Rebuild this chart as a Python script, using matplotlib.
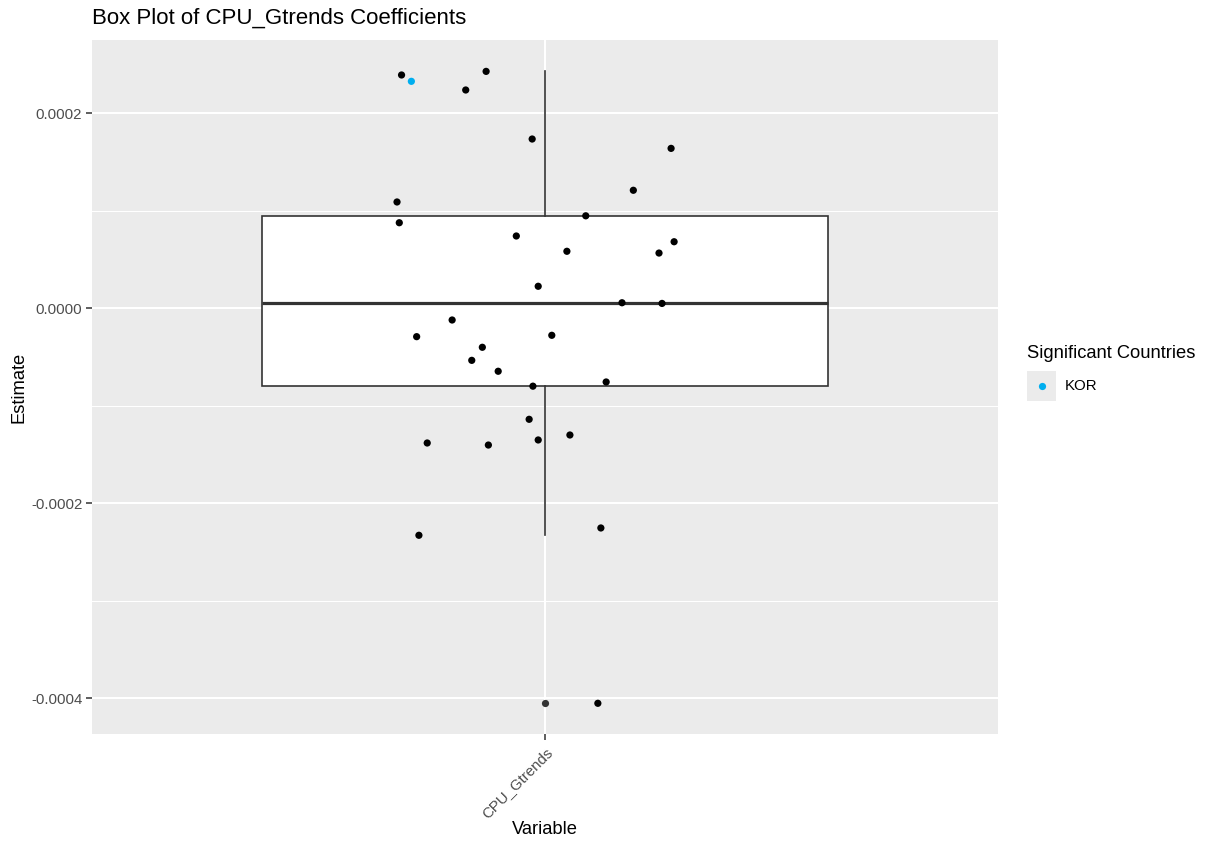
import matplotlib
matplotlib.use("Agg")
import matplotlib.pyplot as plt
import numpy as np
from matplotlib.patches import Rectangle
from matplotlib.lines import Line2D

plt.rcParams['font.family'] = ['Liberation Sans', 'DejaVu Sans']

# data
variable = "CPU_Gtrends"
estimates = [0.0002393, 0.0002328, 0.0002430, 0.0002239, 0.0001736, 0.0001640,
             0.0001210, 0.0001090, 0.0000877, 0.0000948, 0.0000741, 0.0000682,
             0.0000584, 0.0000566, 0.0000225, 0.0000056, 0.0000049, -0.0000121,
             -0.0000292, -0.0000278, -0.0000401, -0.0000535, -0.0000647, -0.0000757,
             -0.0000800, -0.0001140, -0.0001383, -0.0001404, -0.0001352, -0.0001301,
             -0.0002255, -0.0002330, -0.0004054]
jitter = [-0.190, -0.177, -0.078, -0.105, -0.017, 0.167,
          0.117, -0.196, -0.193, 0.054, -0.038, 0.171,
          0.029, 0.151, -0.009, 0.102, 0.155, -0.123,
          -0.170, 0.009, -0.083, -0.097, -0.062, 0.081,
          -0.016, -0.021, -0.156, -0.075, -0.009, 0.033,
          0.074, -0.167, 0.070]
significant = [None] * len(estimates)
significant[1] = "KOR"
sig_colors = {"KOR": "#00AEEF"}

y_ticks = [0.0002, 0.0, -0.0002, -0.0004]
y_minor = [0.0001, -0.0001, -0.0003]

W, H = 1206, 841
fig = plt.figure(figsize=(W / 100, H / 100), dpi=100)
left, right, top, bottom = 92, 998, 40, 734
ax = fig.add_axes([left / W, 1 - bottom / H, (right - left) / W, (bottom - top) / H])
ax.set_facecolor("#EBEBEB")
for s in ax.spines.values():
    s.set_visible(False)

# grid
for v in y_minor:
    ax.axhline(v, color="white", lw=0.75, zorder=0)
for v in y_ticks:
    ax.axhline(v, color="white", lw=1.5, zorder=0)
ax.axvline(1, color="white", lw=1.5, zorder=0)

# box plot
grey20 = "#333333"
ax.boxplot([estimates], positions=[1], widths=0.75, whis=1.5, patch_artist=True,
           showcaps=False,
           boxprops=dict(facecolor="white", edgecolor=grey20, linewidth=1.2),
           whiskerprops=dict(color=grey20, linewidth=1.2),
           medianprops=dict(color=grey20, linewidth=2.3),
           flierprops=dict(marker="o", markerfacecolor=grey20, markeredgecolor=grey20,
                           markersize=5.2, markeredgewidth=0),
           zorder=2)

# jittered points
xs = 1 + np.array(jitter)
cols = [sig_colors.get(c, "black") if c else "black" for c in significant]
ax.scatter(xs, estimates, c=cols, s=27, linewidths=0, zorder=3)

ax.set_xlim(0.4, 1.6)
ax.set_ylim(-0.0004369, 0.0002752)
ax.set_yticks(y_ticks)
ax.set_yticklabels(["%.4f" % v for v in y_ticks])
ax.set_xticks([1])
ax.set_xticklabels([variable], rotation=45, ha="right", va="top", rotation_mode="anchor")
ax.tick_params(axis="both", colors=grey20, length=4, width=1.1, labelsize=10.8,
               labelcolor="#4D4D4D")
ax.tick_params(axis="y", pad=3)
ax.tick_params(axis="x", pad=4)

ax.set_xlabel("Variable", fontsize=13.2)
ax.xaxis.set_label_coords(0.5, -(830 - bottom) / (bottom - top))
ax.xaxis.label.set_va("center")
ax.set_ylabel("Estimate", fontsize=13.2)
ax.yaxis.set_label_coords(-(left - 19) / (right - left), 0.5)
ax.yaxis.label.set_va("center")

fig.text(left / W, 1 - 18 / H, "Box Plot of CPU_Gtrends Coefficients",
         fontsize=16, ha="left", va="center")

# legend
fig.text(1027 / W, 1 - 354 / H, "Significant Countries", fontsize=13.2,
         ha="left", va="center")
fig.patches.append(Rectangle((1027 / W, 1 - 401 / H), 29 / W, 30 / H,
                             transform=fig.transFigure, facecolor="#EBEBEB",
                             edgecolor="none"))
fig.lines.append(Line2D([1041.5 / W], [1 - 386 / H], transform=fig.transFigure,
                        marker="o", color=sig_colors["KOR"], markersize=5.2,
                        markeredgewidth=0))
fig.text(1065 / W, 1 - 386 / H, "KOR", fontsize=10.8, ha="left", va="center")

fig.savefig("out.png", dpi=100)
